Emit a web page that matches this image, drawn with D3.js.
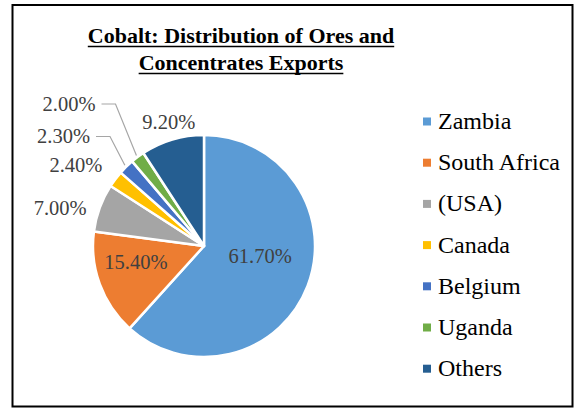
<!DOCTYPE html>
<html><head><meta charset="utf-8">
<script src="https://cdn.jsdelivr.net/npm/d3@7"></script>
<style>html,body{margin:0;padding:0;background:#fff;}svg{display:block;}</style>
</head><body>
<script>
// ---- data ----
const categories = ["Zambia", "South Africa", "(USA)", "Canada", "Belgium", "Uganda", "Others"];
const shares = [61.7, 15.4, 7.0, 2.4, 2.3, 2.0, 9.2];
const labels = ["61.70%", "15.40%", "7.00%", "2.40%", "2.30%", "2.00%", "9.20%"];
const colors = ["#5B9BD5", "#ED7D31", "#A5A5A5", "#FFC000", "#4472C4", "#70AD47", "#255E91"];
const titleLines = ["Cobalt: Distribution of Ores and", "Concentrates Exports"];

// ---- layout ----
const W = 574, H = 408;
const cx = 204, cy = 246, R = 111;
// label placement: [radius, angle offset (deg), leader?]
const labelPlace = [
  {r: 57, da: -11.5},
  {r: 70, da: 7},
  {r: 149, da: -5},
  {r: 152, da: -4.5},
  {r: 153, da: 0, leader: true, lx: 63.5, ly: 135.5},
  {r: 153, da: 0, leader: true, lx: 69, ly: 103},
  {r: 129.5, da: 0.8}
];

const svg = d3.select("body").append("svg").attr("width", W).attr("height", H);
svg.append("rect").attr("x", 0).attr("y", 0).attr("width", W).attr("height", H).attr("fill", "#fff");
svg.append("rect").attr("x", 12.5).attr("y", 5).attr("width", 560).attr("height", 401.5)
  .attr("fill", "none").attr("stroke", "#000").attr("stroke-width", 2);

const font = "'Liberation Serif','Times New Roman',serif";

// title
const tg = svg.append("g");
titleLines.forEach((t, i) => {
  const tx = tg.append("text").attr("x", 241).attr("y", 43 + i * 27)
    .attr("text-anchor", "middle").attr("font-family", font)
    .attr("font-weight", "bold").attr("font-size", 22).attr("fill", "#000").text(t);
  const w = tx.node().getComputedTextLength();
  tg.append("line").attr("x1", 241 - w / 2).attr("x2", 241 + w / 2)
    .attr("y1", 43 + i * 27 + 3.5).attr("y2", 43 + i * 27 + 3.5)
    .attr("stroke", "#000").attr("stroke-width", 1.5);
});

const data = categories.map((c, i) => ({cat: c, v: shares[i], lab: labels[i], col: colors[i], place: labelPlace[i]}));
const pie = d3.pie().value(d => d.v).sort(null);
const arcs = pie(data);
const arc = d3.arc().innerRadius(0).outerRadius(R);

const g = svg.append("g").attr("transform", `translate(${cx},${cy})`);
g.selectAll("path.slice").data(arcs).join("path").attr("class", "slice")
  .attr("d", arc).attr("fill", d => d.data.col)
  .attr("stroke", "#fff").attr("stroke-width", 2.5).attr("stroke-linejoin", "round");

function polar(r, a) { return [r * Math.sin(a), -r * Math.cos(a)]; }

arcs.forEach(d => {
  const p = d.data.place;
  const mid = (d.startAngle + d.endAngle) / 2;
  let x, y;
  if (p.leader) {
    x = p.lx - cx; y = p.ly - cy;
    const end = polar(R + 2, mid);
    const w = 53;
    const hx = x + w / 2 + 6;
    g.append("polyline")
      .attr("points", [[hx, y + 1], [hx + 14, y + 1], end].map(q => q.join(",")).join(" "))
      .attr("fill", "none").attr("stroke", "#A6A6A6").attr("stroke-width", 1.2);
  } else {
    [x, y] = polar(p.r, mid + p.da * Math.PI / 180);
  }
  g.append("text").attr("x", x).attr("y", y + 7.5)
    .attr("text-anchor", "middle").attr("font-family", font).attr("font-size", 20.5)
    .attr("fill", "#404040").text(d.data.lab);
});

// legend
const lg = svg.append("g");
data.forEach((d, i) => {
  const yc = 121.5 + i * 41.2;
  lg.append("rect").attr("x", 423).attr("y", yc - 4).attr("width", 8).attr("height", 8).attr("fill", d.col);
  lg.append("text").attr("x", 438).attr("y", yc + 7.5).attr("font-family", font).attr("font-size", 24)
    .attr("fill", "#000").text(d.cat);
});
</script>
</body></html>
